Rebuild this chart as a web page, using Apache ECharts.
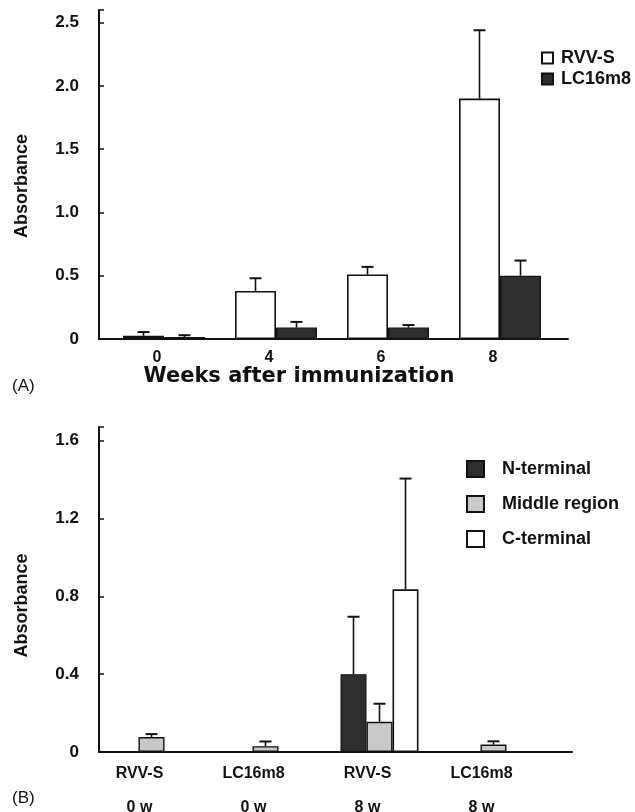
<!DOCTYPE html>
<html>
<head>
<meta charset="utf-8">
<script src="https://cdn.jsdelivr.net/npm/echarts@6/dist/echarts.min.js"></script>
<style>
html,body{margin:0;padding:0;background:#fff;}
#c{width:635px;height:812px;}
</style>
</head>
<body>
<div id="c"></div>
<script>
// ---- Panel A data ----
const weeksA = ['0', '4', '6', '8'];
const rvvA = [0.025, 0.38, 0.51, 1.90];
const rvvAErr = [0.055, 0.48, 0.57, 2.44];
const lcA = [0.015, 0.09, 0.09, 0.50];
const lcAErr = [0.03, 0.135, 0.11, 0.62];
const yTicksA = [0, 0.5, 1.0, 1.5, 2.0, 2.5];

// ---- Panel B data ----
const groupsB = ['RVV-S\n0 w', 'LC16m8\n0 w', 'RVV-S\n8 w', 'LC16m8\n8 w'];
const nTermB = [0.005, 0.005, 0.40, 0];
const nTermBErr = [null, null, 0.695, null];
const midB = [0.077, 0.03, 0.155, 0.038];
const midBErr = [0.092, 0.054, 0.248, 0.055];
const cTermB = [0, 0, 0.836, 0];
const cTermBErr = [null, null, 1.405, null];
const yTicksB = [0, 0.4, 0.8, 1.2, 1.6];

const FONT = "'Liberation Sans', Arial, sans-serif";
const BLACK = '#111';
const DARK = '#2e2e2e';
const LIGHT = '#c9c9c9';

function tickFmt(list) {
  return function (v) {
    const hit = list.some(t => Math.abs(t - v) < 1e-6);
    if (!hit) return '';
    return v === 0 ? '0' : v.toFixed(1);
  };
}

function errSeries(name, xIdx, yIdx, vals, errs, offset) {
  const data = vals.map((v, i) => [i, v, errs[i]]).filter(d => d[2] != null);
  return {
    type: 'custom', name: name + ' err', xAxisIndex: xIdx, yAxisIndex: yIdx, z: 10,
    silent: true,
    renderItem: function (params, api) {
      const base = api.coord([api.value(0), api.value(1)]);
      const top = api.coord([api.value(0), api.value(2)]);
      const x = base[0] + offset;
      return {
        type: 'group',
        children: [
          { type: 'line', shape: { x1: x, y1: base[1], x2: x, y2: top[1] },
            style: { stroke: BLACK, lineWidth: 1.6 } },
          { type: 'line', shape: { x1: x - 6, y1: top[1], x2: x + 6, y2: top[1] },
            style: { stroke: BLACK, lineWidth: 2 } }
        ]
      };
    },
    data: data
  };
}

const barWA = 41;
const barWB = 26;

const option = {
  backgroundColor: '#fff',
  animation: false,
  textStyle: { fontFamily: FONT },
  title: [
    { text: '(A)', left: 7, top: 373, textStyle: { fontFamily: FONT, fontWeight: 'normal', fontSize: 17, color: BLACK } },
    { text: '(B)', left: 7, top: 785, textStyle: { fontFamily: FONT, fontWeight: 'normal', fontSize: 17, color: BLACK } }
  ],
  legend: [
    {
      data: ['RVV-S', 'LC16m8'], orient: 'vertical', left: 536, top: 44, icon: 'rect',
      itemWidth: 11, itemHeight: 11, itemGap: 3,
      textStyle: { fontFamily: FONT, fontWeight: 'bold', fontSize: 18, color: BLACK, padding: [0, 0, 0, 3] }
    },
    {
      data: ['N-terminal', 'Middle region', 'C-terminal'], orient: 'vertical', left: 461, top: 455, icon: 'rect',
      itemWidth: 17, itemHeight: 16, itemGap: 17,
      textStyle: { fontFamily: FONT, fontWeight: 'bold', fontSize: 18, color: BLACK, padding: [0, 0, 0, 13] }
    }
  ],
  grid: [
    { left: 99, top: 10, width: 469, height: 329, outerBoundsMode: 'none', containLabel: false },   // A frame
    { left: 108, top: 10, width: 448, height: 329, outerBoundsMode: 'none', containLabel: false },  // A data
    { left: 99, top: 427, width: 473, height: 325, outerBoundsMode: 'none', containLabel: false },  // B frame
    { left: 94.5, top: 427, width: 456, height: 325, outerBoundsMode: 'none', containLabel: false } // B data
  ],
  xAxis: [
    { gridIndex: 0, type: 'value', min: 0, max: 1,
      axisLine: { show: true, lineStyle: { color: BLACK, width: 2 } },
      axisTick: { show: false }, axisLabel: { show: false }, splitLine: { show: false },
      name: 'Weeks after immunization', nameLocation: 'middle', nameGap: 27,
      nameTextStyle: { fontFamily: "'DejaVu Sans', sans-serif", fontWeight: 'bold', fontSize: 21, color: BLACK, padding: [0, 69, 0, 0] } },
    { gridIndex: 1, type: 'category', data: weeksA,
      axisLine: { show: false }, axisTick: { show: false }, splitLine: { show: false },
      axisLabel: { fontFamily: FONT, fontWeight: 'bold', fontSize: 16, color: BLACK, margin: 11, padding: [0, 14, 0, 0] } },
    { gridIndex: 2, type: 'value', min: 0, max: 1,
      axisLine: { show: true, lineStyle: { color: BLACK, width: 2 } },
      axisTick: { show: false }, axisLabel: { show: false }, splitLine: { show: false } },
    { gridIndex: 3, type: 'category', data: groupsB,
      axisLine: { show: false }, axisTick: { show: false }, splitLine: { show: false },
      axisLabel: { fontFamily: FONT, fontWeight: 'bold', fontSize: 16, color: BLACK, margin: 5,
        lineHeight: 34, padding: [0, 24, 0, 0] } }
  ],
  yAxis: [
    { gridIndex: 0, type: 'value', min: 0, max: 2.6, interval: 0.5,
      axisLine: { show: true, lineStyle: { color: BLACK, width: 2 } },
      axisTick: { show: true, inside: true, length: 5, lineStyle: { color: BLACK, width: 1.5 } },
      splitLine: { show: false },
      axisLabel: { fontFamily: FONT, fontWeight: 'bold', fontSize: 17, color: BLACK, margin: 20, formatter: tickFmt(yTicksA) },
      name: 'Absorbance', nameLocation: 'middle', nameGap: 68,
      nameTextStyle: { fontFamily: FONT, fontWeight: 'bold', fontSize: 18, color: BLACK, padding: [0, 23, 0, 0] } },
    { gridIndex: 1, type: 'value', min: 0, max: 2.6, show: false },
    { gridIndex: 2, type: 'value', min: 0, max: 1.67, interval: 0.4,
      axisLine: { show: true, lineStyle: { color: BLACK, width: 2 } },
      axisTick: { show: true, inside: true, length: 5, lineStyle: { color: BLACK, width: 1.5 } },
      splitLine: { show: false },
      axisLabel: { fontFamily: FONT, fontWeight: 'bold', fontSize: 17, color: BLACK, margin: 20, formatter: tickFmt(yTicksB) },
      name: 'Absorbance', nameLocation: 'middle', nameGap: 68,
      nameTextStyle: { fontFamily: FONT, fontWeight: 'bold', fontSize: 18, color: BLACK, padding: [0, 32, 0, 0] } },
    { gridIndex: 3, type: 'value', min: 0, max: 1.67, show: false }
  ],
  series: [
    { name: 'RVV-S', type: 'bar', xAxisIndex: 1, yAxisIndex: 1, barWidth: barWA, barGap: '0%', data: rvvA,
      itemStyle: { color: '#fff', borderColor: BLACK, borderWidth: 1.6 } },
    { name: 'LC16m8', type: 'bar', xAxisIndex: 1, yAxisIndex: 1, barWidth: barWA, barGap: '0%', data: lcA,
      itemStyle: { color: DARK, borderColor: BLACK, borderWidth: 1.2 } },
    errSeries('RVV-S', 1, 1, rvvA, rvvAErr, -barWA / 2),
    errSeries('LC16m8', 1, 1, lcA, lcAErr, barWA / 2),

    { name: 'N-terminal', type: 'bar', xAxisIndex: 3, yAxisIndex: 3, barWidth: barWB, barGap: '0%', data: nTermB,
      itemStyle: { color: DARK, borderColor: BLACK, borderWidth: 1.2 } },
    { name: 'Middle region', type: 'bar', xAxisIndex: 3, yAxisIndex: 3, barWidth: barWB, barGap: '0%', data: midB,
      itemStyle: { color: LIGHT, borderColor: BLACK, borderWidth: 1.4 } },
    { name: 'C-terminal', type: 'bar', xAxisIndex: 3, yAxisIndex: 3, barWidth: barWB, barGap: '0%', data: cTermB,
      itemStyle: { color: '#fff', borderColor: BLACK, borderWidth: 1.6 } },
    errSeries('N-terminal', 3, 3, nTermB, nTermBErr, -barWB),
    errSeries('Middle region', 3, 3, midB, midBErr, 0),
    errSeries('C-terminal', 3, 3, cTermB, cTermBErr, barWB)
  ]
};

const chart = echarts.init(document.getElementById('c'), null, { renderer: 'canvas' });
chart.setOption(option);
</script>
</body>
</html>
